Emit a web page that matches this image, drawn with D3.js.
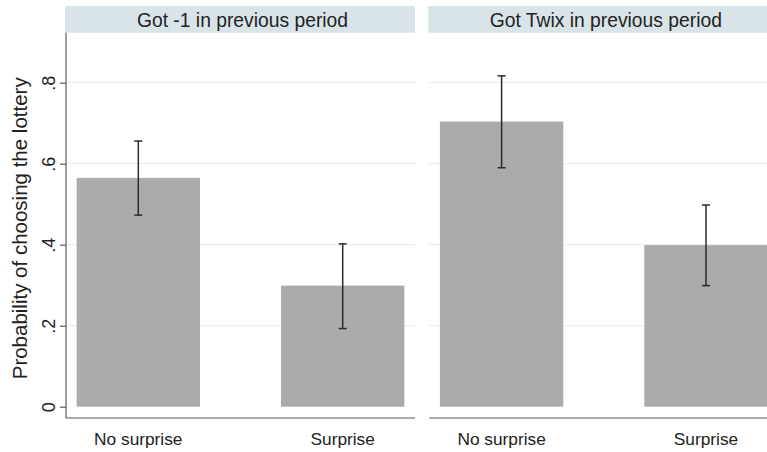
<!DOCTYPE html>
<html>
<head>
<meta charset="utf-8">
<script src="https://cdn.jsdelivr.net/npm/d3@7"></script>
<style>
  html, body { margin: 0; padding: 0; background: #fff; }
  svg { display: block; font-family: "Liberation Sans", Arial, Helvetica, sans-serif; }
</style>
</head>
<body>
<svg id="chart" width="767" height="452"></svg>
<script>
// Panels (one per condition in the previous period)
const panels = ["Got -1 in previous period", "Got Twix in previous period"];
// Categories on the x axis within each panel
const categories = ["No surprise", "Surprise"];
// Mean probability of choosing the lottery, per panel
const means = [[0.565, 0.299], [0.704, 0.399]];
// Confidence interval bounds, per panel
const ciLow = [[0.473, 0.193], [0.590, 0.299]];
const ciHigh = [[0.656, 0.402], [0.817, 0.498]];
// Y-axis ticks
const yTicks = [0, 0.2, 0.4, 0.6, 0.8];
const yTickLabels = ["0", ".2", ".4", ".6", ".8"];
const yTitle = "Probability of choosing the lottery";

const svg = d3.select("#chart");

const panelW = 349;
const panelLeft = [66, 429.3];
const plotTop = 32.7;
const plotBottom = 418;
const stripTop = 6;

const y = d3.scaleLinear().domain([0, 0.8]).range([406.7, 82.7]);

const barColor = "#ababab";
const gridColor = "#e3ebee";
const stripColor = "#d9e4e9";
const axisColor = "#5a5a5a";
const ciColor = "#2a2a2a";
const textColor = "#222";

panels.forEach((title, p) => {
  const x0 = panelLeft[p];
  const g = svg.append("g");

  // strip header
  g.append("rect")
    .attr("x", x0 - 1).attr("y", stripTop)
    .attr("width", panelW + 1).attr("height", plotTop - stripTop)
    .attr("fill", stripColor);
  g.append("text")
    .attr("x", x0 + panelW / 2 + 2).attr("y", 27)
    .attr("text-anchor", "middle")
    .attr("font-size", 19.3)
    .attr("fill", textColor)
    .text(title);

  // horizontal gridlines
  g.selectAll("line.grid")
    .data(yTicks.filter(t => t > 0))
    .enter().append("line")
    .attr("x1", x0).attr("x2", x0 + panelW)
    .attr("y1", d => y(d)).attr("y2", d => y(d))
    .attr("stroke", gridColor).attr("stroke-width", 1);

  const x = d3.scaleBand()
    .domain(categories)
    .range([x0, x0 + panelW])
    .paddingInner(0.3965)
    .paddingOuter(0.052);

  // bars
  g.selectAll("rect.bar")
    .data(categories)
    .enter().append("rect")
    .attr("x", d => x(d))
    .attr("width", x.bandwidth())
    .attr("y", (d, i) => y(means[p][i]))
    .attr("height", (d, i) => y(0) - y(means[p][i]))
    .attr("fill", barColor);

  // confidence intervals
  const cap = 4;
  categories.forEach((c, i) => {
    const cx = x(c) + x.bandwidth() / 2;
    const lo = y(ciLow[p][i]), hi = y(ciHigh[p][i]);
    g.append("line").attr("x1", cx).attr("x2", cx).attr("y1", lo).attr("y2", hi)
      .attr("stroke", ciColor).attr("stroke-width", 1.5);
    [lo, hi].forEach(v => {
      g.append("line").attr("x1", cx - cap).attr("x2", cx + cap).attr("y1", v).attr("y2", v)
        .attr("stroke", ciColor).attr("stroke-width", 1.5);
    });
    // category label
    g.append("text")
      .attr("x", cx).attr("y", 445)
      .attr("text-anchor", "middle")
      .attr("font-size", 17.3)
      .attr("fill", textColor)
      .text(c);
  });

  // bottom axis line
  g.append("line")
    .attr("x1", x0).attr("x2", x0 + panelW)
    .attr("y1", plotBottom).attr("y2", plotBottom)
    .attr("stroke", axisColor).attr("stroke-width", 1.2);

  // left axis only on the first panel
  if (p === 0) {
    const yAxis = d3.axisLeft(y)
      .tickValues(yTicks)
      .tickSize(6)
      .tickFormat((d, i) => yTickLabels[i]);
    const ag = g.append("g").attr("transform", `translate(${x0},0)`).call(yAxis);
    ag.select(".domain").remove();
    ag.selectAll(".tick line").attr("stroke", axisColor).attr("stroke-width", 1.2);
    ag.selectAll(".tick text")
      .attr("transform", "rotate(-90)")
      .attr("x", 0).attr("y", -11)
      .attr("dy", 0)
      .attr("text-anchor", "middle")
      .attr("font-size", 18)
      .attr("font-family", "Liberation Sans, Arial, sans-serif")
      .attr("fill", textColor);
    g.append("line")
      .attr("x1", x0).attr("x2", x0)
      .attr("y1", plotTop).attr("y2", plotBottom)
      .attr("stroke", axisColor).attr("stroke-width", 1.2);
  }
});

// y-axis title
svg.append("text")
  .attr("transform", `translate(27.3, 228.3) rotate(-90)`)
  .attr("text-anchor", "middle")
  .attr("font-size", 20.5)
  .attr("fill", textColor)
  .text(yTitle);
</script>
</body>
</html>
